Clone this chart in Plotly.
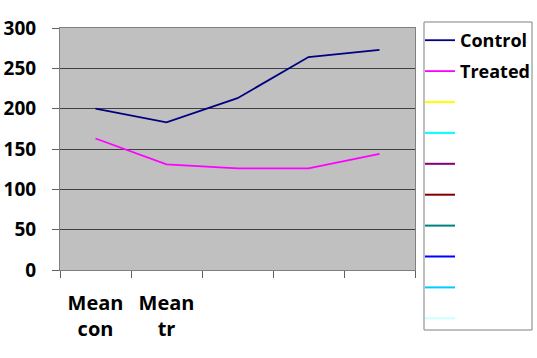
import plotly.graph_objects as go

x_pos = [1, 2, 3, 4, 5]
x_labels = ["Mean<br>con", "Mean<br>tr"]
control = [200, 183, 213, 264, 273]
treated = [163, 131, 126, 126, 144]

extra_colors = ["#FFFF00", "#00FFFF", "#800080", "#800000", "#008080",
                "#0000FF", "#00CCFF", "#CCFFFF"]

fig = go.Figure()
fig.add_trace(go.Scatter(x=x_pos, y=control, mode="lines", name="Control",
                         line=dict(color="#000080", width=1.8), legendgroup="g0"))
fig.add_trace(go.Scatter(x=x_pos, y=treated, mode="lines", name="Treated",
                         line=dict(color="#FF00FF", width=1.8), legendgroup="g1"))
for i, c in enumerate(extra_colors):
    fig.add_trace(go.Scatter(x=[None], y=[None], mode="lines", name=" ",
                             line=dict(color=c, width=2), legendgroup=f"g{i+2}"))

font_family = "Open Sans"
fig.update_layout(
    width=537, height=358,
    margin=dict(l=60, r=122, t=28, b=88, autoexpand=False),
    paper_bgcolor="white", plot_bgcolor="#C0C0C0",
    font=dict(family=font_family, color="black"),
    showlegend=True,
    legend=dict(xref="container", yref="container", x=420/537, y=1-22/358,
                xanchor="left", yanchor="top", bgcolor="rgba(0,0,0,0)",
                borderwidth=0, tracegroupgap=4.5, maxheight=340,
                font=dict(size=18, family=font_family, color="black", weight="bold"),
                itemwidth=30),
    xaxis=dict(range=[0.5, 5.5], tickmode="array", tickvals=[1, 2], ticktext=x_labels,
               ticks="", showgrid=False, zeroline=False, automargin=False,
               showline=True, linecolor="#808080", mirror=True,
               tickfont=dict(size=20, weight="bold"), ticklabelstandoff=15,
               minor=dict(tickmode="array", tickvals=[0.5, 1.5, 2.5, 3.5, 4.5, 5.5],
                          ticks="outside", ticklen=7, tickcolor="#606060", showgrid=False)),
    yaxis=dict(range=[0, 300], tickmode="array", tickvals=[0, 50, 100, 150, 200, 250, 300],
               ticks="outside", ticklen=7, tickcolor="#606060", automargin=False,
               showgrid=True, gridcolor="#404040", gridwidth=1, zeroline=False,
               showline=True, linecolor="#808080", mirror=True,
               tickfont=dict(size=19, weight="bold"), ticklabelstandoff=12),
    shapes=[dict(type="rect", xref="paper", yref="paper",
                 x0=(424-60)/355, x1=(532-60)/355, y0=(270-330)/242, y1=(270-22)/242,
                 line=dict(color="#808080", width=1), fillcolor="rgba(0,0,0,0)")],
)

fig.write_html("out.html", config={"displayModeBar": False},
               post_script="document.body.style.margin='0';")
